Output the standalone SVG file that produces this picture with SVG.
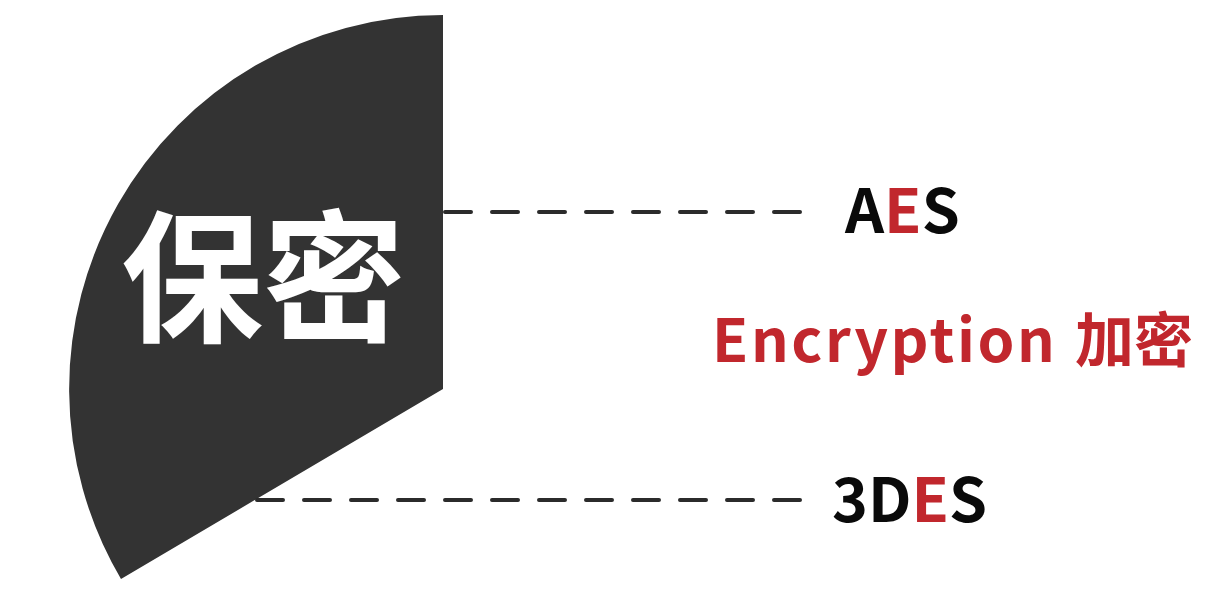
<svg xmlns="http://www.w3.org/2000/svg" width="1228" height="590" viewBox="0 0 1228 590">
<style>
.cjk{font-family:"Noto Sans CJK SC","Noto Sans",sans-serif;font-weight:700}
.lbl{font-size:61px;fill:#0a0a0a}
.red{fill:#c1272d}
.dash{stroke:#2b2b2b;stroke-width:4;stroke-dasharray:26 21;stroke-linecap:round;fill:none}
</style>
<rect width="1228" height="590" fill="#ffffff"/>
<g id="sector">
<path d="M443,15 L443,389 L121,579 A374,374 0 0,1 443,15 Z" fill="#333333"/>
<text class="cjk" x="263" y="331" font-size="142" fill="#ffffff" text-anchor="middle">保密</text>
</g>
<g id="connectors">
<line class="dash" x1="445" y1="212" x2="800" y2="212"/>
<line class="dash" x1="257" y1="500" x2="800" y2="500"/>
</g>
<g id="aes">
<text class="cjk lbl" x="845" y="233">A<tspan class="red">E</tspan>S</text>
</g>
<g id="encryption">
<text class="cjk red" x="712" y="362" font-size="59"><tspan letter-spacing="2.6">Encryption</tspan><tspan x="1075">加密</tspan></text>
</g>
<g id="tdes">
<text class="cjk lbl" x="832" y="522">3D<tspan class="red">E</tspan>S</text>
</g>
</svg>
